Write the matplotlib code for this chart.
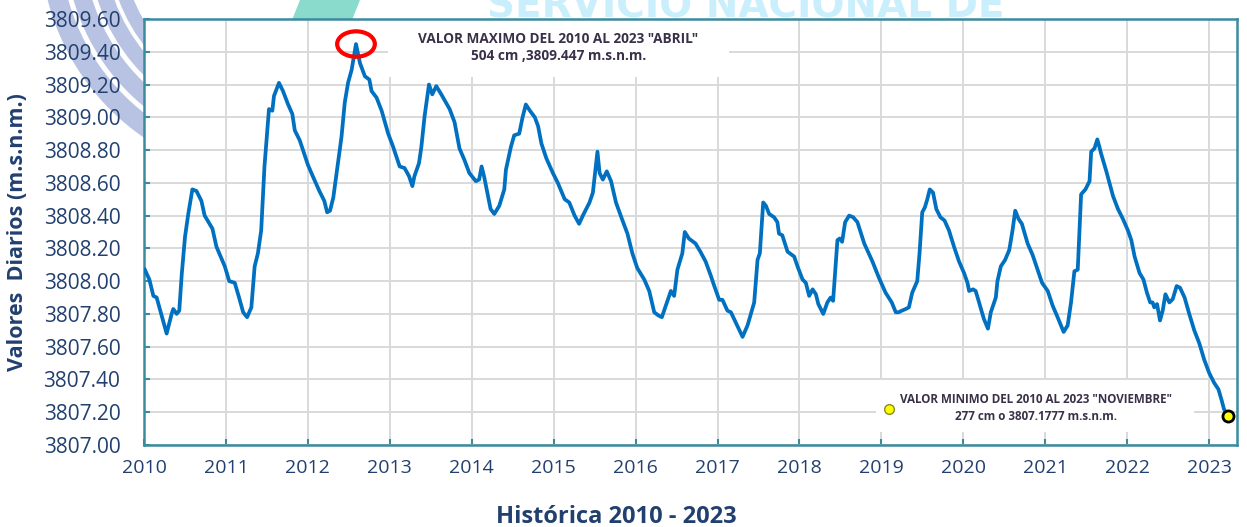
import matplotlib
matplotlib.use("Agg")
import matplotlib.pyplot as plt
import numpy as np
from matplotlib.patches import Ellipse, Rectangle, Polygon, Wedge

# daily level readings (decimal year, m.s.n.m.)
years = [
    2010.01, 2010.065, 2010.114, 2010.154, 2010.276, 2010.337, 2010.357, 2010.398, 2010.43, 2010.46,
    2010.50, 2010.54, 2010.59, 2010.64, 2010.70, 2010.74, 2010.835, 2010.884, 2010.986, 2011.04,
    2011.107, 2011.16, 2011.21, 2011.258, 2011.31, 2011.35, 2011.39, 2011.43, 2011.47, 2011.505,
    2011.525, 2011.566, 2011.586, 2011.647, 2011.696, 2011.757, 2011.81, 2011.84, 2011.90, 2011.967,
    2012.0, 2012.06, 2012.14, 2012.20, 2012.235, 2012.27, 2012.31, 2012.35, 2012.41, 2012.45,
    2012.49, 2012.534, 2012.587, 2012.636, 2012.696, 2012.75, 2012.777, 2012.838, 2012.90, 2012.98,
    2013.04, 2013.12, 2013.18, 2013.235, 2013.275, 2013.30, 2013.356, 2013.385, 2013.425, 2013.478,
    2013.518, 2013.567, 2013.628, 2013.73, 2013.79, 2013.85, 2013.91, 2013.97, 2014.05, 2014.09,
    2014.12, 2014.15, 2014.19, 2014.23, 2014.275, 2014.336, 2014.397, 2014.417, 2014.478, 2014.518,
    2014.579, 2014.62, 2014.66, 2014.71, 2014.77, 2014.81, 2014.85, 2014.91, 2014.99, 2015.05,
    2015.134, 2015.19, 2015.255, 2015.31, 2015.356, 2015.437, 2015.478, 2015.51, 2015.534, 2015.56,
    2015.60, 2015.648, 2015.70, 2015.76, 2015.84, 2015.90, 2015.96, 2016.02, 2016.105, 2016.166,
    2016.227, 2016.28, 2016.32, 2016.368, 2016.43, 2016.47, 2016.51, 2016.57, 2016.60, 2016.65,
    2016.73, 2016.79, 2016.854, 2016.92, 2016.96, 2017.02, 2017.06, 2017.12, 2017.163, 2017.22,
    2017.305, 2017.366, 2017.407, 2017.447, 2017.488, 2017.516, 2017.557, 2017.59, 2017.63, 2017.69,
    2017.73, 2017.75, 2017.79, 2017.854, 2017.935, 2017.976, 2018.037, 2018.077, 2018.118, 2018.16,
    2018.2, 2018.23, 2018.29, 2018.34, 2018.38, 2018.41, 2018.463, 2018.49, 2018.52, 2018.557,
    2018.606, 2018.655, 2018.707, 2018.79, 2018.89, 2018.97, 2019.05, 2019.126, 2019.175, 2019.21,
    2019.25, 2019.297, 2019.335, 2019.376, 2019.437, 2019.465, 2019.498, 2019.53, 2019.56, 2019.59,
    2019.63, 2019.67, 2019.72, 2019.77, 2019.824, 2019.886, 2019.947, 2020.008, 2020.05, 2020.07,
    2020.118, 2020.15, 2020.18, 2020.25, 2020.30, 2020.335, 2020.396, 2020.416, 2020.457, 2020.51,
    2020.56, 2020.60, 2020.633, 2020.673, 2020.714, 2020.784, 2020.845, 2020.906, 2020.96, 2021.03,
    2021.09, 2021.15, 2021.224, 2021.273, 2021.314, 2021.355, 2021.396, 2021.437, 2021.49, 2021.54,
    2021.56, 2021.60, 2021.635, 2021.66, 2021.68, 2021.745, 2021.826, 2021.887, 2021.947, 2022.008,
    2022.05, 2022.09, 2022.15, 2022.198, 2022.24, 2022.28, 2022.31, 2022.33, 2022.364, 2022.40,
    2022.433, 2022.466, 2022.514, 2022.555, 2022.603, 2022.644, 2022.70, 2022.757, 2022.818, 2022.88,
    2022.94, 2023.0, 2023.06, 2023.113, 2023.154, 2023.18, 2023.23,
]
levels = [
    3808.07, 3808.01, 3807.91, 3807.90, 3807.68, 3807.80, 3807.83, 3807.80, 3807.82, 3808.04,
    3808.27, 3808.41, 3808.56, 3808.55, 3808.49, 3808.40, 3808.32, 3808.21, 3808.09, 3808.00,
    3807.99, 3807.90, 3807.81, 3807.78, 3807.84, 3808.09, 3808.17, 3808.31, 3808.70, 3808.92,
    3809.05, 3809.04, 3809.13, 3809.21, 3809.16, 3809.08, 3809.02, 3808.92, 3808.86, 3808.76,
    3808.71, 3808.64, 3808.55, 3808.49, 3808.42, 3808.43, 3808.51, 3808.66, 3808.88, 3809.09,
    3809.21, 3809.29, 3809.447, 3809.33, 3809.25, 3809.23, 3809.16, 3809.12, 3809.04, 3808.90,
    3808.82, 3808.70, 3808.69, 3808.64, 3808.58, 3808.64, 3808.72, 3808.82, 3809.01, 3809.20,
    3809.14, 3809.19, 3809.14, 3809.05, 3808.97, 3808.81, 3808.74, 3808.66, 3808.61, 3808.62,
    3808.70, 3808.64, 3808.54, 3808.44, 3808.41, 3808.46, 3808.56, 3808.68, 3808.82, 3808.89,
    3808.90, 3809.00, 3809.078, 3809.04, 3809.00, 3808.945, 3808.84, 3808.75, 3808.66, 3808.60,
    3808.50, 3808.48, 3808.40, 3808.35, 3808.40, 3808.48, 3808.54, 3808.68, 3808.79, 3808.66,
    3808.62, 3808.67, 3808.61, 3808.48, 3808.37, 3808.29, 3808.17, 3808.08, 3808.01, 3807.94,
    3807.81, 3807.79, 3807.78, 3807.85, 3807.94, 3807.91, 3808.07, 3808.17, 3808.30, 3808.26,
    3808.23, 3808.18, 3808.12, 3808.03, 3807.97, 3807.886, 3807.886, 3807.82, 3807.81, 3807.75,
    3807.66, 3807.73, 3807.80, 3807.87, 3808.13, 3808.17, 3808.48, 3808.46, 3808.41, 3808.39,
    3808.36, 3808.29, 3808.28, 3808.18, 3808.15, 3808.09, 3808.01, 3807.99, 3807.91, 3807.95,
    3807.92, 3807.86, 3807.80, 3807.87, 3807.90, 3807.88, 3808.25, 3808.26, 3808.24, 3808.36,
    3808.40, 3808.39, 3808.36, 3808.23, 3808.12, 3808.02, 3807.93, 3807.87, 3807.81, 3807.81,
    3807.82, 3807.83, 3807.84, 3807.93, 3808.00, 3808.17, 3808.42, 3808.45, 3808.50, 3808.56,
    3808.54, 3808.44, 3808.39, 3808.37, 3808.31, 3808.21, 3808.12, 3808.05, 3807.99, 3807.94,
    3807.95, 3807.94, 3807.89, 3807.77, 3807.71, 3807.81, 3807.90, 3808.00, 3808.09, 3808.13,
    3808.19, 3808.31, 3808.43, 3808.38, 3808.35, 3808.23, 3808.16, 3808.07, 3807.99, 3807.94,
    3807.85, 3807.78, 3807.69, 3807.73, 3807.87, 3808.06, 3808.07, 3808.53, 3808.56, 3808.61,
    3808.79, 3808.81, 3808.865, 3808.82, 3808.78, 3808.67, 3808.52, 3808.44, 3808.38, 3808.31,
    3808.25, 3808.15, 3808.05, 3808.01, 3807.93, 3807.87, 3807.87, 3807.84, 3807.86, 3807.76,
    3807.82, 3807.92, 3807.87, 3807.89, 3807.97, 3807.96, 3807.90, 3807.80, 3807.70, 3807.62,
    3807.52, 3807.44, 3807.38, 3807.34, 3807.27, 3807.22, 3807.178,
]

max_point = (2012.587, 3809.447)
min_point = (2023.23, 3807.178)

year_ticks = list(range(2010, 2024))
level_ticks = [3807.00, 3807.20, 3807.40, 3807.60, 3807.80, 3808.00, 3808.20, 3808.40,
               3808.60, 3808.80, 3809.00, 3809.20, 3809.40, 3809.60]

max_text = 'VALOR MAXIMO DEL 2010 AL 2023 "ABRIL"\n504 cm ,3809.447 m.s.n.m.'
min_text = 'VALOR MINIMO DEL 2010 AL 2023 "NOVIEMBRE"\n277 cm o 3807.1777 m.s.n.m.'

NAVY = "#22406f"
TEAL = "#3a8ba0"
LINE = "#0070c0"

plt.rcParams["font.family"] = ["Open Sans", "DejaVu Sans"]

fig = plt.figure(figsize=(12.47, 5.27), dpi=100)

# faint logo watermark behind the plot (pixel coordinates of the figure)
bg = fig.add_axes([0, 0, 1, 1], zorder=-5)
bg.set_xlim(0, 1247)
bg.set_ylim(527, 0)
bg.axis("off")
for r, w in [(240, 20), (215, 18), (192, 16), (172, 14)]:
    bg.add_patch(Wedge((280, -60), r, 100, 180, width=w, facecolor="#b8c3e4",
                       edgecolor="none"))
bg.add_patch(Polygon([[300, 0], [360, 0], [352, 20], [292, 20]], closed=True,
                     facecolor="#8adbcc", edgecolor="none"))
bg.text(746, 17, "SERVICIO NACIONAL DE", color="#c9eefc", fontsize=28, fontweight="bold",
        ha="center", va="baseline", family="DejaVu Sans")

ax = fig.add_axes([0.1155, 0.1556, 0.8765, 0.8084])
ax.set_facecolor("white")

ax.plot(years, levels, color=LINE, lw=2.7, zorder=3, solid_joinstyle="round")

ax.set_xlim(2010, 2023.34)
ax.set_ylim(3807.0, 3809.6)
ax.set_xticks(year_ticks)
ax.set_xticklabels([str(y) for y in year_ticks])
ax.set_yticks(level_ticks)
ax.set_yticklabels([f"{v:.2f}" for v in level_ticks])
ax.grid(True, color="#d9d9d9", lw=1.4, zorder=0)
ax.set_axisbelow(True)

for side in ["left", "bottom", "top", "right"]:
    ax.spines[side].set_color(TEAL)
    ax.spines[side].set_linewidth(1.8)
ax.tick_params(axis="both", direction="in", length=4, width=1.5, color=TEAL,
               labelcolor=NAVY)
ax.tick_params(axis="x", pad=10, labelsize=14)
ax.tick_params(axis="y", pad=17, labelsize=15)

ax.set_ylabel("Valores  Diarios (m.s.n.m.)", color=NAVY, fontsize=15.5,
              fontweight="bold", labelpad=11)
ax.set_xlabel("Histórica 2010 - 2023", color=NAVY, fontsize=17, fontweight="bold")
ax.xaxis.set_label_coords(0.432, -0.14)

# white label boxes hiding the grid
ax.add_patch(Rectangle((0.223, 0.864), 0.312, 0.136, transform=ax.transAxes,
                       facecolor="white", edgecolor="none", zorder=1))
ax.add_patch(Rectangle((0.670, 0.0305), 0.291, 0.122, transform=ax.transAxes,
                       facecolor="white", edgecolor="none", zorder=1))

ax.text(0.379, 0.933, max_text, transform=ax.transAxes, ha="center", va="center",
        fontsize=9.8, fontweight="bold", color="#3a3148", linespacing=1.35, zorder=4)
ax.text(0.816, 0.087, min_text, transform=ax.transAxes, ha="center", va="center",
        fontsize=8.4, fontweight="bold", color="#3a3148", linespacing=1.4, zorder=4)
ax.plot([0.682], [0.0845], "o", transform=ax.transAxes, ms=7, mfc="#ffff00",
        mec="#8a8a2a", mew=1, zorder=4)

# highlight max and min
ax.add_patch(Ellipse(max_point, 0.46, 0.155, facecolor="none", edgecolor="#ff0000",
                     lw=3, zorder=5))
ax.plot([min_point[0]], [min_point[1]], "o", ms=8, mfc="#ffff00", mec="black",
        mew=2, zorder=5)

fig.savefig("out.png", dpi=100)
